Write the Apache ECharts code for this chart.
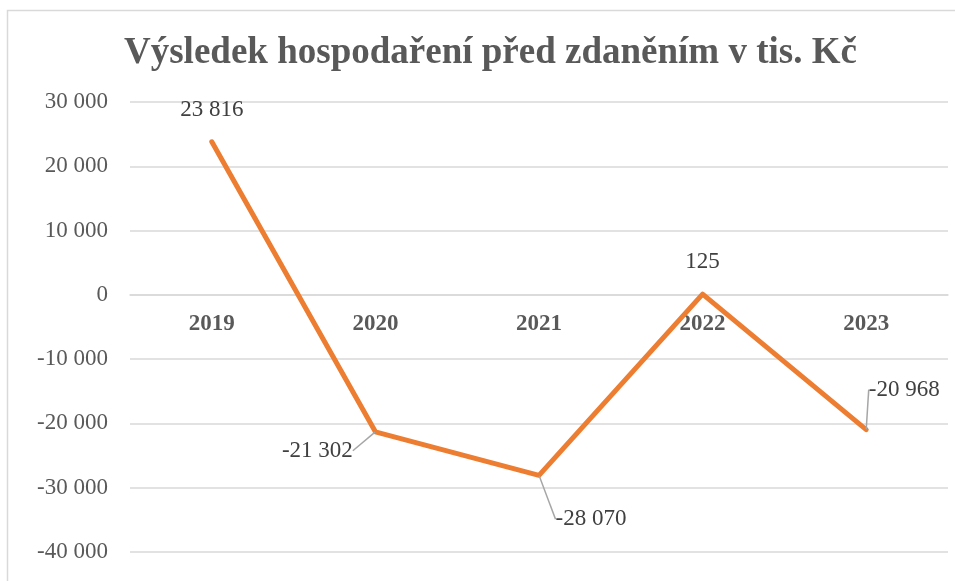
<!DOCTYPE html>
<html><head><meta charset="utf-8">
<script src="https://cdn.jsdelivr.net/npm/echarts@6/dist/echarts.min.js"></script>
<style>html,body{margin:0;padding:0;background:#fff}#c{width:955px;height:581px}</style>
</head><body><div id="c"></div>
<script>
const titleText = 'Výsledek hospodaření před zdaněním v tis. Kč';
const categories = ['2019', '2020', '2021', '2022', '2023'];
const values = [23816, -21302, -28070, 125, -20968];
const yTicks = { min: -40000, max: 30000, interval: 10000 };

function fmt(v) {
  const s = Math.abs(v).toString().replace(/\B(?=(\d{3})+(?!\d))/g, ' ');
  return (v < 0 ? '-' : '') + s;
}

// label shifts relative to the data point (style only)
const labelShift = [[0, -32], [-58, 19], [52, 44], [0, -32], [38, -40]];
const showGuide = [false, true, true, false, true];

const F = '"Liberation Serif", "Times New Roman", serif';
const gridTop = 102, gridBottom = 29, chartH = 581;
const plotH = chartH - gridTop - gridBottom;
const zeroFromBottom = plotH * (0 - yTicks.min) / (yTicks.max - yTicks.min);

const chart = echarts.init(document.getElementById('c'));
chart.setOption({
  animation: false,
  title: { text: titleText, left: 119, top: 30,
    textStyle: { fontFamily: F, fontSize: 37, fontWeight: 'bold', color: '#595959' } },
  graphic: [{ type: 'rect', shape: { x: 7.5, y: 10.5, width: 960, height: 600 },
    style: { fill: 'none', stroke: '#d9d9d9', lineWidth: 1.5 }, silent: true }],
  grid: { left: 130, right: 7, top: gridTop, bottom: gridBottom },
  xAxis: {
    type: 'category', data: categories, boundaryGap: true,
    position: 'bottom', offset: -zeroFromBottom,
    axisLine: { show: true, onZero: false, lineStyle: { color: '#d9d9d9', width: 1.5 } },
    axisTick: { show: false },
    axisLabel: { margin: 18, fontFamily: F, fontSize: 23, fontWeight: 'bold', color: '#595959' }
  },
  yAxis: {
    type: 'value', min: yTicks.min, max: yTicks.max, interval: yTicks.interval,
    axisLine: { show: false }, axisTick: { show: false },
    splitLine: { lineStyle: { color: '#d9d9d9', width: 1.5 } },
    axisLabel: { margin: 22, fontFamily: F, fontSize: 23, color: '#595959', formatter: fmt }
  },
  series: [{
    type: 'line', symbol: 'circle', symbolSize: 1, showSymbol: true,
    itemStyle: { color: '#ED7D31' },
    lineStyle: { color: '#ED7D31', width: 5, cap: 'round', join: 'round' },
    data: values.map((v, i) => ({
      value: v,
      labelLine: { show: showGuide[i] }
    })),
    label: { show: true, position: 'inside', fontFamily: F, fontSize: 23, color: '#404040',
      formatter: p => fmt(p.value) },
    labelLayout: p => ({ dx: labelShift[p.dataIndex][0], dy: labelShift[p.dataIndex][1] }),
    labelLine: { show: true, lineStyle: { color: '#a6a6a6', width: 1.5 } }
  }]
});
</script></body></html>
